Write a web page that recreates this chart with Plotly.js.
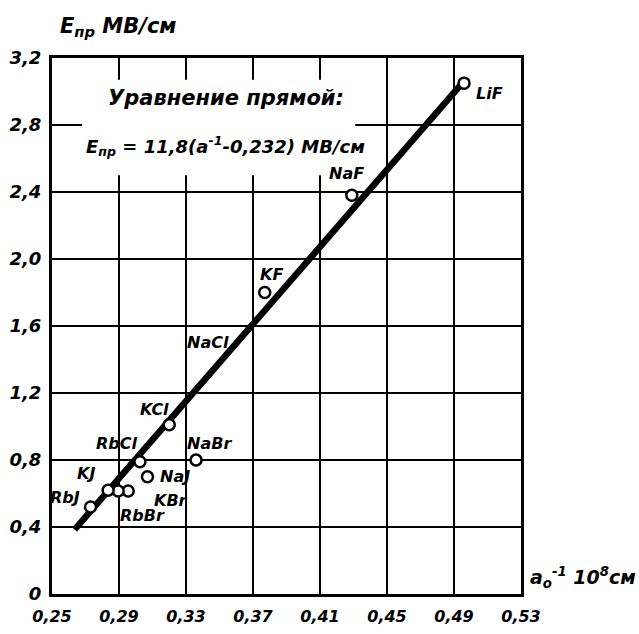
<!DOCTYPE html>
<html>
<head>
<meta charset="utf-8">
<script src="https://cdn.plot.ly/plotly-3.0.1.min.js"></script>
<style>html,body{margin:0;padding:0;background:#fff;}#chart{width:639px;height:634px;}</style>
</head>
<body>
<div id="chart"></div>
<script>
// Measured points (a0^-1, 10^8 cm^-1 ; E_pr, MV/cm)
var salts  = ["LiF", "NaF", "KF", "KCl", "RbCl", "NaBr", "NaJ", "KBr", "RbBr", "KJ", "RbJ"];
var invA   = [0.496, 0.429, 0.377, 0.320, 0.3025, 0.336, 0.307, 0.2955, 0.2895, 0.2835, 0.273];
var ePr    = [3.05, 2.38, 1.80, 1.01, 0.79, 0.80, 0.70, 0.615, 0.615, 0.62, 0.52];
// Fitted straight line (end points)
var lineX  = [0.2635, 0.494];
var lineY  = [0.385, 3.04];
// Tick labels
var xTickVals = [0.25, 0.29, 0.33, 0.37, 0.41, 0.45, 0.49, 0.53];
var xTickText = ["0,25", "0,29", "0,33", "0,37", "0,41", "0,45", "0,49", "0,53"];
var yTickVals = [0, 0.4, 0.8, 1.2, 1.6, 2.0, 2.4, 2.8, 3.2];
var yTickText = ["0", "0,4", "0,8", "1,2", "1,6", "2,0", "2,4", "2,8", "3,2"];
// Label anchors for each salt (data coordinates)
var labelNames = ["LiF", "NaF", "KF", "NaCl", "KCl", "RbCl", "NaBr", "NaJ", "KJ", "RbJ", "KBr", "RbBr"];
var labelX     = [0.511, 0.426, 0.381, 0.343, 0.311, 0.289, 0.344, 0.3235, 0.270, 0.258, 0.321, 0.304];
var labelY     = [2.99, 2.51, 1.91, 1.50, 1.10, 0.90, 0.90, 0.70, 0.72, 0.575, 0.56, 0.47];

var hand = {family: "DejaVu Sans, sans-serif", color: "#000", style: "italic", weight: "bold"};
function f(size){ return Object.assign({}, hand, {size: size}); }

var annotations = labelNames.map(function(n, i){
  return {x: labelX[i], y: labelY[i], xref: "x", yref: "y", text: n, showarrow: false,
          font: f(16), xanchor: "center", yanchor: "middle"};
});
annotations.push(
  {xref: "paper", yref: "paper", x: 0.012, y: 1.058, text: "E<sub>пр</sub> МВ/см", showarrow: false,
   font: f(21), xanchor: "left", yanchor: "middle"},
  {xref: "paper", yref: "paper", x: 1.015, y: 0.03, text: "a<sub>o</sub><sup>-1</sup> 10<sup>8</sup>см", showarrow: false,
   font: f(19), xanchor: "left", yanchor: "middle"},
  {xref: "paper", yref: "paper", x: 0.37, y: 0.925, text: "Уравнение прямой:", showarrow: false,
   font: f(21), xanchor: "center", yanchor: "middle"},
  {xref: "paper", yref: "paper", x: 0.37, y: 0.835, text: "E<sub>пр</sub> = 11,8(a<sup>-1</sup>-0,232) МВ/см", showarrow: false,
   font: f(18), xanchor: "center", yanchor: "middle"}
);

var traces = [
  {x: lineX, y: lineY, mode: "lines", line: {color: "#000", width: 6.5}, hoverinfo: "skip"},
  {x: invA, y: ePr, name: "points", mode: "markers",
   marker: {symbol: "circle", size: 11, color: "#fff", line: {color: "#000", width: 2.5}}}
];

var layout = {
  width: 639, height: 634,
  margin: {l: 52, r: 118, t: 58, b: 40},
  paper_bgcolor: "#fff", plot_bgcolor: "#fff",
  showlegend: false,
  xaxis: {range: [0.25, 0.53], tickvals: xTickVals, ticktext: xTickText, showgrid: true,
          gridcolor: "#000", gridwidth: 2, zeroline: false, showline: true, linecolor: "#000",
          linewidth: 3, mirror: true, ticks: "", tickfont: f(16), ticklabelstandoff: 6},
  yaxis: {range: [0, 3.2], tickvals: yTickVals, ticktext: yTickText, showgrid: true,
          gridcolor: "#000", gridwidth: 2, zeroline: false, showline: true, linecolor: "#000",
          linewidth: 3, mirror: true, ticks: "", tickfont: f(18), ticklabelstandoff: 4},
  shapes: [
    {type: "rect", xref: "x", yref: "y", x0: 0.268, x1: 0.431, y0: 2.5, y1: 3.07,
     fillcolor: "#fff", line: {width: 0}, layer: "above"}
  ],
  annotations: annotations
};

Plotly.newPlot("chart", traces, layout, {displayModeBar: false, staticPlot: true});
</script>
</body>
</html>
